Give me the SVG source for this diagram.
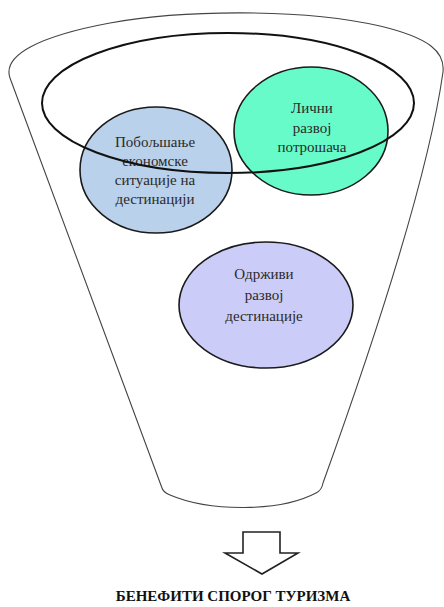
<svg xmlns="http://www.w3.org/2000/svg" width="444" height="607" viewBox="0 0 444 607">
<style>
.funnel{fill:none;stroke:#444;stroke-width:1.1}
.ring{fill:none;stroke:#111;stroke-width:2}
.node{stroke:#1a1a1a;stroke-width:1.6}
.t{font-size:15px;fill:#2a2a2a;text-anchor:middle}
.title{font-size:15px;font-weight:bold;fill:#111;text-anchor:middle}
</style>
<rect width="444" height="607" fill="#fff"/>
<g id="funnel">
<path class="funnel" d="M 162 488 L 10 78 C 2 55, 40 36, 110 23 C 180 10, 300 8, 380 26 C 430 38, 445 52, 443 72 Q 425 200, 323 483 Q 322 490, 316 493 C 280 512, 210 512, 170 495 Q 163 492, 162 488 Z"/>
</g>
<g font-family="Liberation Serif, serif">
<g id="n-blue">
<ellipse class="node" cx="156" cy="170" rx="76" ry="63" fill="#b9d1ea"/>
<text class="t" x="155" y="147">Побољшање</text>
<text class="t" x="155" y="166">економске</text>
<text class="t" x="155" y="185">ситуације на</text>
<text class="t" x="155" y="204">дестинацији</text>
</g>
<g id="n-green">
<ellipse class="node" cx="311" cy="131" rx="77" ry="64" fill="#66fbc8"/>
<text class="t" x="312" y="113">Лични</text>
<text class="t" x="312" y="133">развој</text>
<text class="t" x="312" y="152">потрошача</text>
</g>
<g id="n-ring">
<ellipse class="ring" cx="228" cy="103" rx="186" ry="70"/>
</g>
<g id="n-purple">
<ellipse class="node" cx="266" cy="305" rx="87" ry="63" fill="#ccccf8"/>
<text class="t" x="264" y="279">Одрживи</text>
<text class="t" x="264" y="300">развој</text>
<text class="t" x="264" y="321">дестинације</text>
</g>
<g id="connectors">
<path d="M 243 532 L 280 532 L 280 553 L 298 553 L 262 574 L 225 553 L 243 553 Z" fill="#fff" stroke="#222" stroke-width="1.6" stroke-linejoin="miter"/>
</g>
<g id="n-title">
<text class="title" x="233" y="601">БЕНЕФИТИ СПОРОГ ТУРИЗМА</text>
</g>
</g>
</svg>
